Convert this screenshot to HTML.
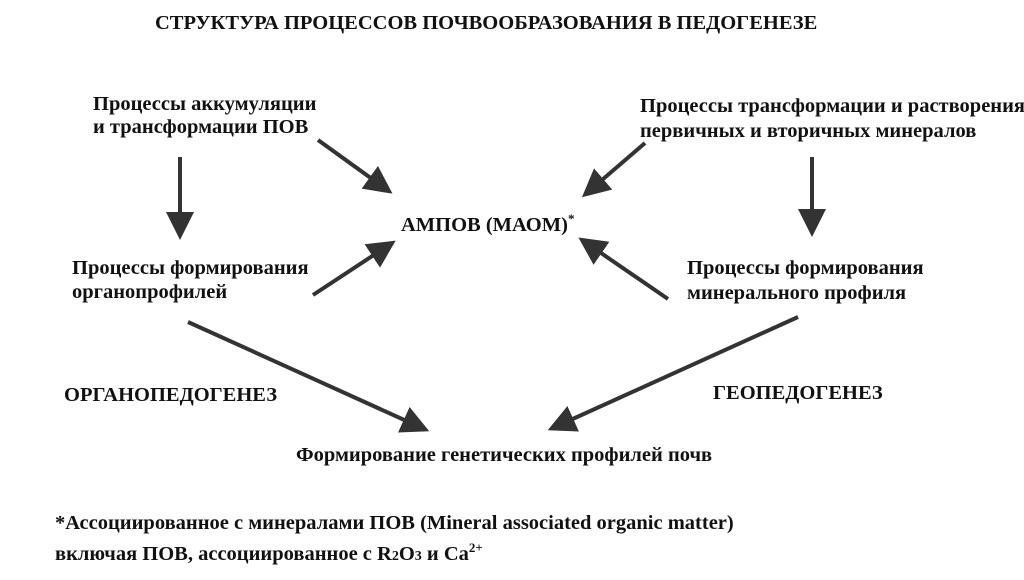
<!DOCTYPE html>
<html><head><meta charset="utf-8"><style>
body{margin:0;width:1024px;height:580px;background:#fff;position:relative;overflow:hidden;font-family:"Liberation Serif","Noto Serif CJK SC",serif;font-weight:bold;color:#111}
.t{position:absolute;white-space:nowrap;font-size:20.5px;line-height:24px}
svg{position:absolute;left:0;top:0}
</style></head><body>
<svg width="1024" height="580">
<defs><marker id="a" markerWidth="7" markerHeight="7" refX="5" refY="3.5" orient="auto" markerUnits="strokeWidth"><path d="M0,0 L7,3.5 L0,7 Z" fill="#333"/></marker></defs>
<g stroke="#333" stroke-width="4" marker-end="url(#a)">
<line x1="318" y1="140" x2="386" y2="189"/>
<line x1="645" y1="143" x2="588" y2="192"/>
<line x1="313" y1="295" x2="389" y2="245"/>
<line x1="668" y1="299" x2="585" y2="242"/>
<line x1="180" y1="157" x2="180" y2="232"/>
<line x1="812" y1="157" x2="812" y2="229"/>
<line x1="188" y1="322" x2="422" y2="428"/>
<line x1="798" y1="317" x2="555" y2="427"/>
</g></svg>
<div class="t" style="left:155px;top:11px;font-size:20.5px">СТРУКТУРА ПРОЦЕССОВ ПОЧВООБРАЗОВАНИЯ В ПЕДОГЕНЕЗЕ</div>
<div class="t" style="left:93px;top:92px">Процессы аккумуляции</div>
<div class="t" style="left:93px;top:115px">и трансформации ПОВ</div>
<div class="t" style="left:640px;top:94px">Процессы трансформации и растворения</div>
<div class="t" style="left:640px;top:119px">первичных и вторичных минералов</div>
<div class="t" style="left:401px;top:207px">АМПОВ (МАОМ)<sup style="font-size:13px">*</sup></div>
<div class="t" style="left:72px;top:256px">Процессы формирования</div>
<div class="t" style="left:72px;top:280px">органопрофилей</div>
<div class="t" style="left:687px;top:256px">Процессы формирования</div>
<div class="t" style="left:687px;top:281px">минерального профиля</div>
<div class="t" style="left:64px;top:383px">ОРГАНОПЕДОГЕНЕЗ</div>
<div class="t" style="left:713px;top:381px">ГЕОПЕДОГЕНЕЗ</div>
<div class="t" style="left:296px;top:443px">Формирование генетических профилей почв</div>
<div class="t" style="left:55px;top:511px">*Ассоциированное с минералами ПОВ (Mineral associated organic matter)</div>
<div class="t" style="left:55px;top:536px">включая ПОВ, ассоциированное с R<span style="font-size:14px">2</span>O<span style="font-size:14px">3</span> и Ca<sup style="font-size:13px">2+</sup></div>
</body></html>
